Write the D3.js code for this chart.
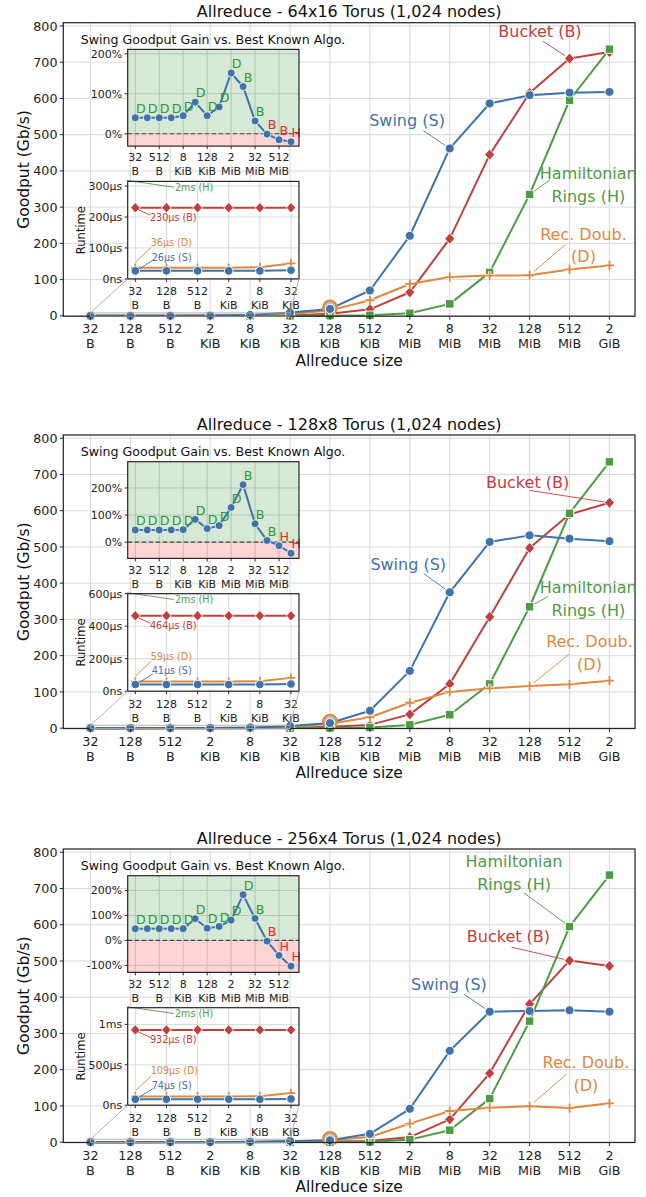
<!DOCTYPE html>
<html><head><meta charset="utf-8">
<script src="https://cdn.jsdelivr.net/npm/d3@7"></script>
<style>body{margin:0;background:#fff}svg{display:block}text{font-family:"DejaVu Sans",sans-serif}</style>
</head><body><svg id="c" width="646" height="1197"></svg>
<script>
// ---------- DATA ----------
const sizeLabels = ["32 B","128 B","512 B","2 KiB","8 KiB","32 KiB","128 KiB","512 KiB","2 MiB","8 MiB","32 MiB","128 MiB","512 MiB","2 GiB"];
const titles = ["Allreduce - 64x16 Torus (1,024 nodes)","Allreduce - 128x8 Torus (1,024 nodes)","Allreduce - 256x4 Torus (1,024 nodes)"];
const yTicksMain = [0,100,200,300,400,500,600,700,800];

// Goodput (Gb/s)
const swing64   = [0.01,0.04,0.16,0.63,2.5,9,19,70,221,462,586,609,616,618];
const bucket64  = [0.001,0.004,0.018,0.07,0.28,1.1,6,18,65,213,445,615,710,728];
const ham64     = [0,0,0,0,0,0.1,0.5,1.5,7,33,120,335,595,736];
const recdoub64 = [0.007,0.03,0.11,0.45,1.7,5.2,15,43,88,107,111,112,128,139];

const swing128   = [0.006,0.025,0.1,0.4,1.6,6,14,48,158,375,514,532,523,516];
const bucket128  = [0.0006,0.002,0.009,0.035,0.14,0.56,4,9,38,122,307,497,590,622];
const ham128     = [0,0,0,0,0,0.1,0.5,2,9,37,122,335,593,735];
const recdoub128 = [0.004,0.017,0.07,0.28,1.1,3.2,12,30,70,100,110,116,121,131];

const swing256   = [0.0035,0.014,0.055,0.22,0.9,3.4,5,23,92,252,360,362,364,360];
const bucket256  = [0.0003,0.001,0.004,0.018,0.07,0.28,2,3,14,63,190,381,501,486];
const ham256     = [0,0,0,0,0,0.1,0.3,0.5,7,33,120,334,595,737];
const recdoub256 = [0.002,0.01,0.04,0.15,0.6,1.7,5,14,51,86,95,99,94,107];

// Swing goodput gain vs best known algorithm (%)
const gain64  = [40,40,40,40,45,79,45,67,152,118,32,-1,-15,-20];
const best64  = ["D","D","D","D","D","D","D","D","D","B","B","B","B","H"];
const gain128 = [45,45,45,45,46,84,50,61,128,212,68,6,-13,-41];
const best128 = ["D","D","D","D","D","D","D","D","D","B","B","B","H","H"];
const gain256 = [47,47,47,47,47,87,49,56,81,183,88,-3,-60,-103];
const best256 = ["D","D","D","D","D","D","D","D","D","D","B","B","H","H"];
const gainTicks64 = [0,100,200], gainTicks128 = [0,100,200], gainTicks256 = [-100,0,100,200];

// Runtime (µs) for the 6 smallest sizes
const rtSwing64 = [26,26,26,26,26,28],   rtRecDoub64 = [36,36,36,36,38,50],     rtBucket64 = [230,230,230,230,230,230],   rtHam64 = [2000,2000,2000,2000,2000,2000];
const rtSwing128 = [41,41,41,41,41,44],  rtRecDoub128 = [59,59,59,59,61,82],    rtBucket128 = [464,464,464,464,464,464], rtHam128 = [2000,2000,2000,2000,2000,2000];
const rtSwing256 = [74,74,74,74,74,78],  rtRecDoub256 = [109,109,109,109,112,150], rtBucket256 = [932,932,932,932,932,932], rtHam256 = [2000,2000,2000,2000,2000,2000];
const rtTicks64 = [0,100,200,300], rtTicks128 = [0,200,400,600], rtTicks256 = [0,500,1000];
const rtLabels64  = {H:"2ms (H)", B:"230µs (B)", D:"36µs (D)", S:"26µs (S)"};
const rtLabels128 = {H:"2ms (H)", B:"464µs (B)", D:"59µs (D)", S:"41µs (S)"};
const rtLabels256 = {H:"2ms (H)", B:"932µs (B)", D:"109µs (D)", S:"74µs (S)"};

// ---------- LAYOUT / STYLE ----------
const colors = {S:"#3f72a6", B:"#c0403e", H:"#4f9a47", D:"#e0873d"};
const gainGreen = "#2f9a2f", gainRed = "#ff2020";
const annot = [
  [ {k:"B",lines:["Bucket (B)"],tx:11.26,ty:785,sx:11.33,sy:758,t:12},
    {k:"S",lines:["Swing (S)"],tx:7.93,ty:539,sx:8.34,sy:511,t:9},
    {k:"H",lines:["Hamiltonian","Rings (H)"],tx:12.47,ty:394,sx:11.51,sy:375,t:11},
    {k:"D",lines:["Rec. Doub.","(D)"],tx:12.35,ty:226,sx:11.89,sy:196,t:11} ],
  [ {k:"B",lines:["Bucket (B)"],tx:10.95,ty:680,sx:11.01,sy:656,t:13},
    {k:"S",lines:["Swing (S)"],tx:7.96,ty:453,sx:8.35,sy:426,t:9},
    {k:"H",lines:["Hamiltonian","Rings (H)"],tx:12.47,ty:388,sx:11.47,sy:364,t:11},
    {k:"D",lines:["Rec. Doub.","(D)"],tx:12.5,ty:240,sx:12.0,sy:205,t:11} ],
  [ {k:"H",lines:["Hamiltonian","Rings (H)"],tx:10.61,ty:775,sx:10.86,sy:688,t:12},
    {k:"B",lines:["Bucket (B)"],tx:10.47,ty:568,sx:10.55,sy:538,t:12},
    {k:"S",lines:["Swing (S)"],tx:8.98,ty:435,sx:9.36,sy:408,t:10},
    {k:"D",lines:["Rec. Doub.","(D)"],tx:12.41,ty:221,sx:11.93,sy:188,t:11} ]
];

const panels = [
  {title:titles[0], series:{S:swing64,B:bucket64,H:ham64,D:recdoub64}, gain:gain64, best:best64, gainDom:[-31,211], gainTicks:gainTicks64,
   rt:{S:rtSwing64,D:rtRecDoub64,B:rtBucket64,H:rtHam64}, rtDom:[0,315], rtTicks:rtTicks64, rtLab:rtLabels64},
  {title:titles[1], series:{S:swing128,B:bucket128,H:ham128,D:recdoub128}, gain:gain128, best:best128, gainDom:[-60,297], gainTicks:gainTicks128,
   rt:{S:rtSwing128,D:rtRecDoub128,B:rtBucket128,H:rtHam128}, rtDom:[0,600], rtTicks:rtTicks128, rtLab:rtLabels128},
  {title:titles[2], series:{S:swing256,B:bucket256,H:ham256,D:recdoub256}, gain:gain256, best:best256, gainDom:[-128,259], gainTicks:gainTicks256,
   rt:{S:rtSwing256,D:rtRecDoub256,B:rtBucket256,H:rtHam256}, rtDom:[0,1207], rtTicks:rtTicks256, rtLab:rtLabels256}
];

const svg = d3.select("#c");
const L = 63.3, R = 635, PH = 293.5;
const tops = [22.7, 435, 849];
const insL = 127.7, insR = 299;
const gridCol = "#dadada", frameCol = "#262626";

function marker(g, k, x, y, s) {
  const c = colors[k];
  if (k === "S") g.append("circle").attr("cx",x).attr("cy",y).attr("r",4.5*s).attr("fill",c).attr("stroke","#fff").attr("stroke-width",0.9);
  else if (k === "B") g.append("path").attr("d",`M${x},${y-5.6*s}L${x+5*s},${y}L${x},${y+5.6*s}L${x-5*s},${y}Z`).attr("fill",c).attr("stroke","#fff").attr("stroke-width",0.9);
  else if (k === "H") g.append("rect").attr("x",x-4.2*s).attr("y",y-4.2*s).attr("width",8.4*s).attr("height",8.4*s).attr("fill",c).attr("stroke","#fff").attr("stroke-width",0.9);
  else {
    const d = `M${x-4.6*s},${y}H${x+4.6*s}M${x},${y-4.6*s}V${y+4.6*s}`;
    g.append("path").attr("d",d).attr("stroke","#fff").attr("stroke-width",3.4).attr("fill","none");
    g.append("path").attr("d",d).attr("stroke",c).attr("stroke-width",1.8).attr("fill","none");
  }
}
function twoLine(g, x, y1, label, size, dy, anchor) {
  const parts = label.split(" ");
  parts.forEach((p, j) => g.append("text").attr("x",x).attr("y",y1 + j*dy).attr("text-anchor",anchor||"middle")
    .attr("font-size",size).attr("fill","#222").text(p));
}
const fmtRt = v => v === 0 ? "0ns" : v >= 1000 ? (v/1000) + "ms" : v + "µs";
const fmtPct = v => v + "%";

panels.forEach((p, pi) => {
  const top = tops[pi], bot = top + PH;
  const g = svg.append("g");
  const x = d3.scaleLinear().domain([-0.68, 13.64]).range([L, R]);
  const y = d3.scaleLinear().domain([-1, 809]).range([bot, top]);
  const idx = d3.range(sizeLabels.length);

  // grid
  g.append("g").selectAll("line").data(idx).join("line")
    .attr("x1",i=>x(i)).attr("x2",i=>x(i)).attr("y1",top).attr("y2",bot).attr("stroke",gridCol).attr("stroke-width",1);
  g.append("g").selectAll("line").data(yTicksMain).join("line")
    .attr("x1",L).attr("x2",R).attr("y1",v=>y(v)).attr("y2",v=>y(v)).attr("stroke",gridCol).attr("stroke-width",1);

  // title
  g.append("text").attr("x",(L+R)/2).attr("y",top-5.3).attr("text-anchor","middle").attr("font-size",16).attr("fill","#111").text(p.title);

  // inset title
  g.append("text").attr("x",80.7).attr("y",top+21.2).attr("font-size",12.6).attr("fill","#111").text("Swing Goodput Gain vs. Best Known Algo.");

  // lines
  const line = d3.line().x((d,i)=>x(i)).y(d=>y(d));
  ["B","H","D","S"].forEach(k => {
    g.append("path").attr("d",line(p.series[k])).attr("fill","none").attr("stroke",colors[k]).attr("stroke-width",2).attr("stroke-linejoin","round");
  });
  // highlight ring at 128 KiB
  g.append("circle").attr("cx",x(6)).attr("cy",y(p.series.S[6])-1.5).attr("r",6.8)
    .attr("fill","#b9c3d1").attr("stroke",colors.D).attr("stroke-width",2.2);
  ["B","H","D","S"].forEach(k => {
    p.series[k].forEach((v,i) => marker(g, k, x(i), y(v), 1));
  });

  // frame
  g.append("rect").attr("x",L).attr("y",top).attr("width",R-L).attr("height",PH).attr("fill","none").attr("stroke",frameCol).attr("stroke-width",1.25);
  // y ticks
  yTicksMain.forEach(v => {
    g.append("line").attr("x1",L-3.5).attr("x2",L).attr("y1",y(v)).attr("y2",y(v)).attr("stroke",frameCol);
    g.append("text").attr("x",L-5.8).attr("y",y(v)+4.6).attr("text-anchor","end").attr("font-size",12.7).attr("fill","#222").text(v);
  });
  // x ticks
  idx.forEach(i => {
    g.append("line").attr("x1",x(i)).attr("x2",x(i)).attr("y1",bot).attr("y2",bot+3.5).attr("stroke",frameCol);
    twoLine(g, x(i), bot+17, sizeLabels[i], 12.7, 15);
  });
  g.append("text").attr("x",(L+R)/2).attr("y",bot+49.5).attr("text-anchor","middle").attr("font-size",15.5).attr("fill","#111").text("Allreduce size");
  g.append("text").attr("transform",`translate(28.5,${(top+bot)/2}) rotate(-90)`).attr("text-anchor","middle").attr("font-size",15.5).attr("fill","#111").text("Goodput (Gb/s)");

  // annotations
  annot[pi].forEach(a => {
    const c = colors[a.k];
    a.lines.forEach((t,j) => g.append("text").attr("x",x(a.tx)).attr("y",y(a.ty)+5.8+j*22.7).attr("text-anchor","middle")
      .attr("font-size",16).attr("fill",c).text(t));
    const sx = x(a.sx), sy = y(a.sy), ex0 = x(a.t), ey0 = y(p.series[a.k][a.t]);
    const dx = ex0-sx, dy = ey0-sy, len = Math.hypot(dx,dy), sh = 5.5;
    g.append("line").attr("x1",sx).attr("y1",sy).attr("x2",ex0-dx/len*sh).attr("y2",ey0-dy/len*sh).attr("stroke",c).attr("stroke-width",0.9);
  });

  // ---------- gain inset ----------
  const gTop = top+26.7, gBot = gTop+96.7;
  const gx = d3.scaleLinear().domain([-0.634, 13.668]).range([insL, insR]);
  const gy = d3.scaleLinear().domain(p.gainDom).range([gBot, gTop]);
  const gi = svg.append("g");
  gi.append("rect").attr("x",insL).attr("y",gTop).attr("width",insR-insL).attr("height",gBot-gTop).attr("fill","#fff");
  const gxt = idx.filter(i => i % 2 === 0);
  gi.selectAll(".gv").data(gxt).join("line").attr("x1",i=>gx(i)).attr("x2",i=>gx(i)).attr("y1",gTop).attr("y2",gBot).attr("stroke","#cfcfcf");
  gi.selectAll(".gh").data(p.gainTicks).join("line").attr("x1",insL).attr("x2",insR).attr("y1",v=>gy(v)).attr("y2",v=>gy(v)).attr("stroke","#cfcfcf");
  gi.append("rect").attr("x",insL).attr("y",gTop).attr("width",insR-insL).attr("height",gy(0)-gTop).attr("fill","#5aa55a").attr("opacity",0.25);
  gi.append("rect").attr("x",insL).attr("y",gy(0)).attr("width",insR-insL).attr("height",gBot-gy(0)).attr("fill","#ff5555").attr("opacity",0.25);
  gi.append("line").attr("x1",insL).attr("x2",insR).attr("y1",gy(0)).attr("y2",gy(0)).attr("stroke","#444").attr("stroke-width",1.1).attr("stroke-dasharray","4.5,2.5");
  gi.append("path").attr("d",d3.line().x((d,i)=>gx(i)).y(d=>gy(d))(p.gain)).attr("fill","none").attr("stroke",colors.S).attr("stroke-width",2);
  p.gain.forEach((v,i) => {
    gi.append("circle").attr("cx",gx(i)).attr("cy",gy(v)).attr("r",4).attr("fill",colors.S).attr("stroke","#fff").attr("stroke-width",0.8);
  });
  p.gain.forEach((v,i) => {
    gi.append("text").attr("x",gx(i)+0.6).attr("y",gy(v)-4.8).attr("font-size",12.7).attr("fill", v > 0 ? gainGreen : gainRed).text(p.best[i]);
  });
  gi.append("rect").attr("x",insL).attr("y",gTop).attr("width",insR-insL).attr("height",gBot-gTop).attr("fill","none").attr("stroke",frameCol).attr("stroke-width",1.2);
  p.gainTicks.forEach(v => {
    gi.append("line").attr("x1",insL-3).attr("x2",insL).attr("y1",gy(v)).attr("y2",gy(v)).attr("stroke",frameCol);
    gi.append("text").attr("x",insL-5.5).attr("y",gy(v)+4).attr("text-anchor","end").attr("font-size",11).attr("fill","#222").text(fmtPct(v));
  });
  gxt.forEach(i => {
    gi.append("line").attr("x1",gx(i)).attr("x2",gx(i)).attr("y1",gBot).attr("y2",gBot+3).attr("stroke",frameCol);
    twoLine(gi, gx(i), gBot+15.3, sizeLabels[i], 11, 14);
  });

  // ---------- runtime inset ----------
  const rTop = top+158.7, rBot = rTop+97.5;
  const rx = d3.scaleLinear().domain([-0.244, 5.257]).range([insL, insR]);
  const ry = d3.scaleLinear().domain(p.rtDom).range([rBot, rTop]);
  const ri = svg.append("g");
  const ridx = d3.range(6);
  ri.append("rect").attr("x",insL).attr("y",rTop).attr("width",insR-insL).attr("height",rBot-rTop).attr("fill","#fff");
  ri.selectAll(".rv").data(ridx).join("line").attr("x1",i=>rx(i)).attr("x2",i=>rx(i)).attr("y1",rTop).attr("y2",rBot).attr("stroke","#dadada");
  ri.selectAll(".rh").data(p.rtTicks).join("line").attr("x1",insL).attr("x2",insR).attr("y1",v=>ry(v)).attr("y2",v=>ry(v)).attr("stroke","#dadada");
  const rl = d3.line().x((d,i)=>rx(i)).y(d=>ry(d));
  ["B","D","S"].forEach(k => {
    ri.append("path").attr("d",rl(p.rt[k])).attr("fill","none").attr("stroke",colors[k]).attr("stroke-width",2);
    p.rt[k].forEach((v,i) => marker(ri, k, rx(i), ry(v), 0.95));
  });
  // runtime annotations
  const x0 = rx(0), yB = ry(p.rt.B[0]), yD = ry(p.rt.D[0]), yS = ry(p.rt.S[0]);
  const af = 9.6;
  ri.append("line").attr("x1",insL-1).attr("y1",rTop-1).attr("x2",x0+38.5).attr("y2",rTop+5.8).attr("stroke",colors.H).attr("stroke-width",0.9);
  ri.append("text").attr("x",x0+39.7).attr("y",rTop+9.6).attr("font-size",af).attr("fill",colors.H).text(p.rtLab.H);
  ri.append("line").attr("x1",x0+1).attr("y1",yB+1).attr("x2",x0+15).attr("y2",yB+7.5).attr("stroke",colors.B).attr("stroke-width",0.9);
  ri.append("text").attr("x",x0+14.7).attr("y",yB+13.2).attr("font-size",af).attr("fill",colors.B).text(p.rtLab.B);
  ri.append("line").attr("x1",x0+0.5).attr("y1",yD-6).attr("x2",x0+16).attr("y2",yD-20.5).attr("stroke",colors.D).attr("stroke-width",0.9);
  ri.append("text").attr("x",x0+15.4).attr("y",yD-22).attr("font-size",af).attr("fill",colors.D).text(p.rtLab.D);
  ri.append("line").attr("x1",x0+3).attr("y1",yS-1.5).attr("x2",x0+17.5).attr("y2",yS-10.5).attr("stroke",colors.S).attr("stroke-width",0.9);
  ri.append("text").attr("x",x0+16.4).attr("y",yS-10.3).attr("font-size",af).attr("fill",colors.S).text(p.rtLab.S);

  ri.append("rect").attr("x",insL).attr("y",rTop).attr("width",insR-insL).attr("height",rBot-rTop).attr("fill","none").attr("stroke",frameCol).attr("stroke-width",1.2);
  p.rtTicks.forEach(v => {
    ri.append("line").attr("x1",insL-3).attr("x2",insL).attr("y1",ry(v)).attr("y2",ry(v)).attr("stroke",frameCol);
    ri.append("text").attr("x",insL-5.5).attr("y",ry(v)+4).attr("text-anchor","end").attr("font-size",11).attr("fill","#222").text(fmtRt(v));
  });
  ridx.forEach(i => {
    ri.append("line").attr("x1",rx(i)).attr("x2",rx(i)).attr("y1",rBot).attr("y2",rBot+3).attr("stroke",frameCol);
    twoLine(ri, rx(i), rBot+16.5, sizeLabels[i], 11, 14);
  });
  ri.append("text").attr("transform",`translate(84.5,${(rTop+rBot)/2}) rotate(-90)`).attr("text-anchor","middle").attr("font-size",11.5).attr("fill","#111").text("Runtime");

  // inset indicator
  const iy = y(8);
  svg.append("rect").attr("x",x(0)).attr("y",iy).attr("width",x(5)-x(0)).attr("height",y(-1)-iy).attr("fill","none").attr("stroke","#aaa").attr("stroke-width",0.9);
  svg.append("line").attr("x1",insL).attr("y1",rBot).attr("x2",x(0)).attr("y2",iy).attr("stroke","#aaa").attr("stroke-width",0.9);
  svg.append("line").attr("x1",insR).attr("y1",rBot).attr("x2",x(5)).attr("y2",iy).attr("stroke","#aaa").attr("stroke-width",0.9);
});
</script></body></html>
